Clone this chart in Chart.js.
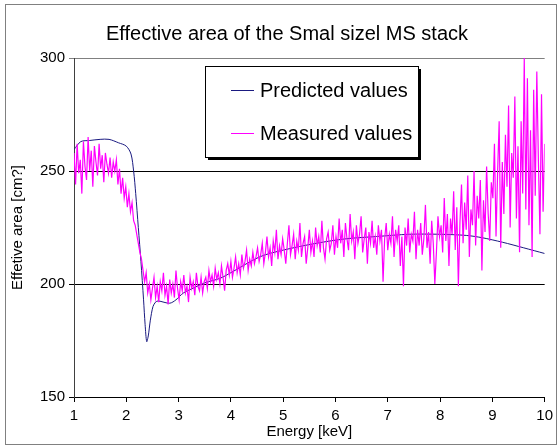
<!DOCTYPE html>
<html>
<head>
<meta charset="utf-8">
<script src="https://cdn.jsdelivr.net/npm/chart.js@4"></script>
<style>
  html, body { margin: 0; padding: 0; background: #fff; }
  #wrap { width: 558px; height: 446px; }
</style>
</head>
<body>
<div id="wrap"><canvas id="effArea" width="558" height="446"></canvas></div>
<script>
// ── data ──────────────────────────────────────
const chartTitle = 'Effective area of the Smal sizel MS stack';
const xTitle = 'Energy [keV]';
const yTitle = 'Effetive area [cm?]';
const legendLabels = ['Predicted values', 'Measured values'];

// predicted curve (energy keV / area cm2)
const predEnergy = [1.00, 1.13, 1.30, 1.50, 1.67, 1.85, 2.00, 2.09, 2.14, 2.18, 2.23, 2.28, 2.33, 2.36, 2.39, 2.42,
    2.46, 2.51, 2.56, 2.61, 2.83, 2.95, 3.09, 3.31, 3.50, 3.79, 4.00, 4.55, 5.00, 5.63, 6.20, 6.78, 7.41, 8.00,
    8.50, 8.80, 9.19, 9.60, 10.00];
const predArea = [259.5, 263, 263.5, 264, 264, 262.5, 261, 257.5, 250, 240, 225, 210, 193, 182, 174.5, 177,
    184, 190, 192, 192.5, 191.5, 193, 196, 198.5, 200.5, 202.5, 205, 212, 215, 218, 220, 221, 222, 222,
    221.5, 220.5, 218.5, 216, 213.5];

// measured values, evenly spaced from 1 to 10 keV
const measArea = [
    // 1.0 - 1.8
    258, 244, 262, 249, 255, 240, 263, 252, 246, 265, 250, 259, 243, 261, 254, 248, 262, 251, 257, 245,
    258, 253, 249, 256, 247, 254, 250,
    // 1.8 - 2.1
    255, 244, 251, 240, 247, 238, 243, 234, 240, 232, 236,
    // 2.1 - 2.4
    228, 226, 222, 218, 214, 211, 206, 201, 205,
    // 2.4 - 3.5
    196, 200, 193, 198, 203, 194, 199, 192, 201, 197, 205, 195, 199, 191, 202, 196, 200, 194, 206, 198,
    193, 201, 197, 204, 196, 199, 192, 203, 198, 201, 195, 205, 199, 197, 203, 196, 201,
    // 3.5 - 4.5
    203, 198, 206, 201, 204, 199, 207, 202, 205, 200, 208, 203, 197, 206, 209, 204, 210, 203, 207, 212,
    205, 209, 204, 213, 207, 210, 215, 206, 211, 208, 214, 209, 212,
    // 4.5 - 6.0
    216, 210, 213, 218, 209, 214, 221, 212, 216, 208, 219, 214, 224, 211, 217, 213, 220, 215, 209, 218,
    226, 213, 217, 222, 211, 219, 215, 227, 212, 218, 221, 209, 216, 224, 214, 219, 212, 225, 217, 221,
    214, 228, 216, 211, 220, 223, 215, 218, 226, 213,
    // 6.0 - 8.0
    221, 216, 229, 218, 224, 212, 227, 220, 215, 231, 219, 223, 211, 226, 218, 222, 230, 214, 220, 225,
    209, 223, 218, 228, 216, 221, 213, 226, 219, 224, 201, 220, 227, 215, 222, 218, 230, 212, 224, 219,
    226, 208, 221, 199, 225, 217, 229, 214, 222, 219, 232, 211, 224, 217, 227, 213, 220, 235, 216, 223,
    209, 228, 218, 200, 214, 230, 221,
    // 8.0 - 9.0
    226, 214, 238, 219, 231, 208, 229, 222, 241, 215, 234, 199, 227, 244, 218, 236, 224, 248, 212, 233,
    226, 250, 217, 239, 229, 246, 206, 237, 223, 252, 231, 219, 245,
    // 9.0 - 10.0
    238, 262, 221, 249, 272, 216, 254, 231, 266, 243, 279, 225, 258, 247, 283, 229, 261, 214, 272, 240,
    300, 233, 291, 226, 268, 212, 286, 239, 294, 255, 222, 284, 232, 262
];

const xMin = 1, xMax = 10;
const yMin = 150, yMax = 300, yStep = 50;

// ── build datasets ─────────────────
const predPoints = predEnergy.map((e, i) => ({ x: e, y: predArea[i] }));
const measPoints = measArea.map((v, i) => ({ x: xMin + (xMax - xMin) * i / (measArea.length - 1), y: v }));

const FONT = "'Liberation Sans', Arial, sans-serif";
const PRED_COLOR = '#1a1a80';
const MEAS_COLOR = '#ff00ff';

// title, legend box and outer frame (Excel look)
const decorPlugin = {
    id: 'decor',
    afterDraw(chart) {
        const ctx = chart.ctx;
        ctx.save();
        // outer frame
        ctx.strokeStyle = '#808080';
        ctx.lineWidth = 1;
        ctx.strokeRect(5.5, 4.5, 551, 440);

        // title
        ctx.fillStyle = '#000';
        ctx.font = '20px ' + FONT;
        ctx.textAlign = 'center';
        ctx.textBaseline = 'middle';
        ctx.fillText(chartTitle, 287, 34);

        // legend box with shadow
        const bx = 205, by = 66, bw = 213, bh = 91;
        ctx.fillStyle = '#000';
        ctx.fillRect(bx + 3, by + bh, bw, 3);
        ctx.fillRect(bx + bw, by + 3, 3, bh);
        ctx.fillStyle = '#fff';
        ctx.fillRect(bx, by, bw, bh);
        ctx.strokeStyle = '#000';
        ctx.strokeRect(bx + 0.5, by + 0.5, bw, bh);

        const rows = [[legendLabels[0], PRED_COLOR, 90], [legendLabels[1], MEAS_COLOR, 133]];
        ctx.font = '20px ' + FONT;
        ctx.textAlign = 'left';
        rows.forEach(([txt, col, y]) => {
            ctx.strokeStyle = col;
            ctx.beginPath();
            ctx.moveTo(231, y + 0.5);
            ctx.lineTo(254, y + 0.5);
            ctx.stroke();
            ctx.fillStyle = '#000';
            ctx.fillText(txt, 260, y + 1);
        });
        ctx.restore();
    }
};

new Chart(document.getElementById('effArea').getContext('2d'), {
    type: 'line',
    data: {
        datasets: [
            {
                label: legendLabels[1],
                data: measPoints,
                borderColor: MEAS_COLOR,
                borderWidth: 1.2,
                pointRadius: 0,
                tension: 0,
                order: 1,
            },
            {
                label: legendLabels[0],
                data: predPoints,
                borderColor: PRED_COLOR,
                borderWidth: 1,
                pointRadius: 0,
                tension: 0.3,
                order: 2,
            }
        ]
    },
    options: {
        responsive: false,
        animation: false,
        devicePixelRatio: 1,
        layout: { padding: { left: 0, top: 58, right: 11, bottom: 0 } },
        plugins: {
            legend: { display: false },
            title: { display: false },
            tooltip: { enabled: false },
        },
        scales: {
            x: {
                type: 'linear',
                min: xMin,
                max: xMax,
                afterFit: s => { s.height = 49; },
                ticks: {
                    stepSize: 1,
                    color: '#000',
                    padding: 5,
                    font: { family: FONT, size: 15 },
                },
                grid: { drawOnChartArea: false, drawTicks: true, tickLength: 5, color: '#000' },
                border: { color: '#000' },
                title: {
                    display: true,
                    text: xTitle,
                    color: '#000',
                    font: { family: FONT, size: 15 },
                    padding: { top: 0, bottom: 5 },
                },
            },
            y: {
                min: yMin,
                max: yMax,
                afterFit: s => { s.width = 74; },
                ticks: {
                    stepSize: yStep,
                    color: '#000',
                    padding: 4,
                    font: { family: FONT, size: 15 },
                },
                grid: {
                    tickLength: 5,
                    color: c => (c.tick && c.tick.value === yMax) ? '#808080' : '#000',
                },
                border: { color: '#404040' },
                title: {
                    display: true,
                    text: yTitle,
                    color: '#000',
                    font: { family: FONT, size: 15 },
                    padding: { top: 9, bottom: 0 },
                },
            }
        }
    },
    plugins: [decorPlugin]
});
</script>
</body>
</html>
